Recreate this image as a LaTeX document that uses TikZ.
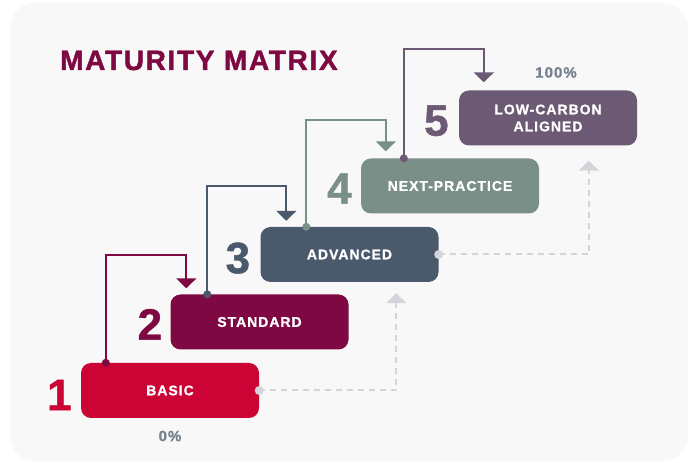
\documentclass[tikz,border=0pt]{standalone}
\usepackage{fontspec}
\setmainfont{Liberation Sans}[BoldFeatures={FakeBold=1}]
\newfontfamily\boxfont{Liberation Sans}[LetterSpace=7, BoldFeatures={FakeBold=1}]
\newfontfamily\titlefont{Liberation Sans}[LetterSpace=6, BoldFeatures={FakeBold=1.5}]
\usepackage{tikz}
\usetikzlibrary{arrows.meta,calc,positioning}
\definecolor{basicred}{RGB}{204,4,54}
\definecolor{stdmaroon}{RGB}{125,8,66}
\definecolor{advslate}{RGB}{74,90,108}
\definecolor{nextgreen}{RGB}{122,143,135}
\definecolor{lowpurple}{RGB}{108,90,117}
\definecolor{dashgrey}{RGB}{212,212,219}
\definecolor{pctgrey}{RGB}{118,128,143}
\definecolor{panel}{RGB}{248,248,248}
\tikzset{
    level/.style ={rectangle, rounded corners=10pt, minimum width=178pt, minimum height=55pt,
        text=white, align=center, font=\boxfont\bfseries\fontsize{14}{17}\selectfont},
    stepnum/.style = {inner sep=0pt, anchor=base east, font=\bfseries\fontsize{44}{44}\selectfont},
    pct/.style = {text=pctgrey, font=\boxfont\bfseries\fontsize{15}{15}\selectfont},
    dot/.style = {circle, fill, inner sep=0pt, minimum size=8pt},
    flow/.style = {line width=2pt, -{Triangle[width=20pt,length=10pt]}},
    dashflow/.style = {dashgrey, line width=2pt, dash pattern=on 6pt off 5pt,
        -{Triangle[width=20pt,length=10pt]}}
}
\begin{document}
\begin{tikzpicture}[x=1pt,y=1pt]
    \useasboundingbox (0,0) rectangle (691,463);
    \fill[panel, rounded corners=25pt] (10,2) rectangle (688,460);

    \node[anchor=base west, inner sep=0pt, text=stdmaroon, font=\titlefont\bfseries\fontsize{28}{28}\selectfont]
        (title) at (60,393) {MATURITY MATRIX};

    \node[level, fill=basicred] (1) at (170,72.5) {BASIC};
    \node[level, fill=stdmaroon] (2) at (259.5,141) {STANDARD};
    \node[level, fill=advslate] (3) at (349.5,208.5) {ADVANCED};
    \node[level, fill=nextgreen] (4) at (450,277) {NEXT-PRACTICE};
    \node[level, fill=lowpurple] (5) at (548,345) {LOW-CARBON\\ALIGNED};

    \node[stepnum, text=basicred] (n1) at ($(1.south west)+(-9,8)$) {1};
    \node[stepnum, text=stdmaroon] (n2) at ($(2.south west)+(-8,10)$) {2};
    \node[stepnum, text=advslate] (n3) at ($(3.south west)+(-10,9)$) {3};
    \node[stepnum, text=nextgreen] (n4) at ($(4.south west)+(-9,10)$) {4};
    \node[stepnum, text=lowpurple] (n5) at ($(5.south west)+(-10,10)$) {5};

    \node[pct, below=9pt of 1] (p0) {0\%};
    \node[pct, above=9pt of 5, xshift=8pt] (p100) {100\%};

    \draw[flow, stdmaroon] ($(1.north west)+(25,0)$) node[dot]{} -- ++(0,108) -| ($(2.north west)+(16,6)$);
    \draw[flow, advslate] ($(2.north west)+(37,0)$) node[dot]{} -- ++(0,108) -| ($(3.north west)+(26,6)$);
    \draw[flow, nextgreen] ($(3.north west)+(46,0)$) node[dot]{} -- ++(0,107) -| ($(4.north west)+(25,7)$);
    \draw[flow, lowpurple] ($(4.north west)+(43,0)$) node[dot]{} -- ++(0,109) -| ($(5.north west)+(25,8)$);

    \draw[dashflow] (1.east) node[dot, fill=dashgrey, minimum size=9pt]{} -| ($(3.south west)+(136,-11)$);
    \draw[dashflow] (3.east) node[dot, fill=dashgrey, minimum size=9pt]{} -| ($(5.south west)+(130,-15)$);
\end{tikzpicture}
\end{document}
